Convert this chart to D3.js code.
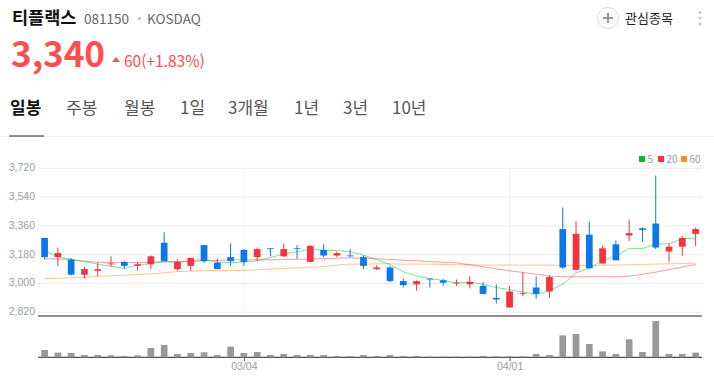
<!DOCTYPE html>
<html lang="ko">
<head>
<meta charset="utf-8">
<title>티플랙스</title>
<script src="https://cdn.jsdelivr.net/npm/d3@7"></script>
<style>
    html, body { margin: 0; padding: 0; background: #fff; }
    svg { display: block; font-family: "Noto Sans CJK KR", "Noto Sans", sans-serif; }
    .axis path { display: none; }
    .axis text { fill: #989ea5; font-size: 10.5px; }
    .x-axis line { stroke: #555; }
</style>
</head>
<body>
<div id="chart"></div>
<script>
// daily candles, red = up, blue = down
const dates = ["02/08","02/11","02/12","02/13","02/14","02/15","02/18","02/19","02/20","02/21",
    "02/22","02/25","02/26","02/27","02/28","03/04","03/05","03/06","03/07","03/08",
    "03/11","03/12","03/13","03/14","03/15","03/18","03/19","03/20","03/21","03/22",
    "03/25","03/26","03/27","03/28","03/29","04/01","04/02","04/03","04/04","04/05",
    "04/08","04/09","04/10","04/11","04/12","04/15","04/16","04/17","04/18","04/19"];
const opens = [3285,3165,3150,3055,3080,3120,3135,3110,3120,3255,3090,3110,3240,3130,3165,
    3210,3165,3220,3170,3220,3135,3210,3175,3175,3165,3090,3100,3015,2995,3030,
    3020,3000,2995,2985,2910,2850,2935,2975,2950,3340,3085,3305,3125,3245,3300,
    3345,3375,3200,3230,3310];
const highs = [3285,3225,3160,3105,3130,3170,3140,3130,3175,3320,3150,3160,3240,3155,3250,
    3215,3225,3220,3250,3240,3240,3245,3200,3215,3175,3115,3110,3030,3020,3030,
    3030,3025,3045,3010,2995,2985,3070,3045,3050,3475,3390,3385,3235,3270,3400,
    3350,3675,3250,3295,3350];
const lows = [3150,3110,3050,3030,3045,3105,3090,3080,3090,3140,3080,3080,3130,3090,3110,
    3110,3140,3170,3165,3155,3135,3165,3165,3165,3090,3085,3010,2975,2955,2975,
    2985,2985,2970,2935,2875,2850,2920,2905,2910,3090,3085,3095,3125,3145,3265,
    3260,3215,3135,3175,3235];
const closes = [3165,3190,3055,3090,3090,3125,3110,3120,3170,3140,3135,3160,3140,3090,3140,
    3135,3215,3215,3215,3215,3235,3175,3190,3170,3110,3100,3015,2990,3015,3025,
    3005,3005,3010,2935,2900,2950,2940,2935,3040,3100,3310,3095,3220,3145,3315,
    3335,3225,3230,3285,3340];
const volumes = [22,14,13,7,7,6,4,6,28,37,10,13,15,7,32,
    13,16,7,10,7,7,7,4,4,7,4,7,4,4,2,
    2,2,2,4,3,3,3,10,7,66,70,40,18,10,54,
    16,109,10,10,14];

// moving averages
const ma5 = [3202,3170,3148,3137,3120,3108,3094,3115,3125,3137,3135,3142,3152,3133,3131,
    3133,3142,3162,3185,3198,3215,3208,3206,3200,3177,3150,3119,3073,3046,3031,
    3019,3004,3010,2994,2975,2962,2946,2933,2954,2996,3067,3094,3144,3173,3219,
    3219,3248,3248,3281,3281];
const ma20 = [3154,3154,3150,3140,3133,3131,3131,3131,3133,3135,3135,3137,3142,3144,3148,
    3148,3148,3148,3150,3152,3152,3156,3158,3160,3158,3154,3150,3146,3142,3137,
    3133,3129,3117,3104,3092,3079,3069,3058,3046,3042,3042,3042,3042,3042,3046,
    3058,3071,3087,3102,3119];
const ma60 = [3031,3033,3035,3040,3044,3048,3052,3056,3060,3067,3075,3077,3081,3081,3081,
    3083,3085,3090,3094,3098,3102,3106,3115,3121,3121,3123,3123,3121,3121,3121,
    3119,3117,3117,3115,3115,3115,3115,3115,3115,3114,3113,3113,3115,3115,3117,
    3119,3121,3123,3125,3127];

const priceTicks = [2820,3000,3180,3360,3540,3720];
const dateTicks = ["03/04","04/01"];
const tabs = ["일봉","주봉","월봉","1일","3개월","1년","3년","10년"];
const tabX = [10,66,124,180,228,294,343,392];
const legendNames = ["5","20","60"];
const legendColors = ["#00c31f","#f5333f","#ff8c1e"];

const UP = "#f5333f", DOWN = "#0a78ea";

class CandleChart {

    constructor(parentElement) {
        this._parentElement = parentElement;
        this.initVis();
    }

    initVis() {
        let vis = this;

        vis.width = 714;
        vis.height = 378;
        vis.left = 38;
        vis.right = 702;

        vis.svg = d3.select("#" + vis._parentElement).append("svg")
            .attr("width", vis.width)
            .attr("height", vis.height);

        vis.x = d3.scalePoint()
            .domain(dates)
            .range([44.6, 695.6]);

        vis.y = d3.scaleLinear()
            .domain([2820, 3720])
            .range([312.3, 168.3]);

        vis.yVol = d3.scaleLinear()
            .domain([0, d3.max(volumes)])
            .range([357.3, 321]);

        vis.candleWidth = 6.7;

        vis.drawHeader();
        vis.drawAxes();
        vis.drawVolume();
        vis.drawLines();
        vis.drawCandles();
        vis.drawLegend();
    }

    drawHeader() {
        let vis = this;
        let head = vis.svg.append("g");

        head.append("text").attr("x", 12).attr("y", 23.5)
            .attr("font-size", 17.5).attr("font-weight", 700).attr("fill", "#111")
            .text("티플랙스");
        head.append("text").attr("x", 84).attr("y", 23.5)
            .attr("font-size", 13.5).attr("fill", "#5f6670")
            .text("081150");
        head.append("circle").attr("cx", 139.5).attr("cy", 18.5).attr("r", 1.5)
            .attr("fill", "#bbb");
        head.append("text").attr("x", 147).attr("y", 23.5)
            .attr("font-size", 13.5).attr("fill", "#5f6670")
            .text("KOSDAQ");

        head.append("text").attr("x", 11).attr("y", 66.5)
            .attr("font-size", 35).attr("font-weight", 700).attr("fill", "#ff4d52")
            .text("3,340");
        head.append("path").attr("d", "M112,62L116,57L120,62Z").attr("fill", "#ff4d52");
        head.append("text").attr("x", 124).attr("y", 67)
            .attr("font-size", 15.5).attr("fill", "#ff4d52")
            .text("60(+1.83%)");

        // 관심종목 button
        head.append("circle").attr("cx", 608).attr("cy", 18).attr("r", 10.5)
            .attr("fill", "#fff").attr("stroke", "#d8dbdf");
        head.append("path").attr("d", "M603,18H613M608,13V23")
            .attr("stroke", "#8b96a3").attr("stroke-width", 2);
        head.append("text").attr("x", 625).attr("y", 22.5)
            .attr("font-size", 13).attr("fill", "#222")
            .text("관심종목");
        head.selectAll(".dot").data([12.5, 18, 24]).enter().append("circle")
            .attr("class", "dot")
            .attr("cx", 700).attr("cy", d => d).attr("r", 1.5)
            .attr("fill", "#c4c8cd");

        // tab row
        head.selectAll(".tab").data(tabs).enter().append("text")
            .attr("class", "tab")
            .attr("x", (d, i) => tabX[i])
            .attr("y", 114)
            .attr("font-size", 17)
            .attr("font-weight", (d, i) => i === 0 ? 700 : 400)
            .attr("fill", (d, i) => i === 0 ? "#111" : "#555")
            .text(d => d);
        head.append("line").attr("x1", 0).attr("x2", vis.width)
            .attr("y1", 136.5).attr("y2", 136.5).attr("stroke", "#f0f0f0");
        head.append("line").attr("x1", 9).attr("x2", 44)
            .attr("y1", 136).attr("y2", 136).attr("stroke", "#222").attr("stroke-width", 1.2);
    }

    drawAxes() {
        let vis = this;

        // grid
        vis.svg.append("g").selectAll("line").data(priceTicks).enter().append("line")
            .attr("x1", vis.left).attr("x2", vis.right)
            .attr("y1", d => vis.y(d)).attr("y2", d => vis.y(d))
            .attr("stroke", "#ececec");
        vis.svg.append("g").selectAll("line").data(dateTicks).enter().append("line")
            .attr("x1", d => vis.x(d)).attr("x2", d => vis.x(d))
            .attr("y1", 168).attr("y2", 316)
            .attr("stroke", "#f1f1f1");

        vis.yAxis = d3.axisLeft(vis.y)
            .tickValues(priceTicks)
            .tickSize(0)
            .tickPadding(3)
            .tickFormat(d3.format(","));
        vis.svg.append("g")
            .attr("class", "y-axis axis")
            .attr("transform", "translate(" + vis.left + ",-1)")
            .call(vis.yAxis);

        vis.xAxis = d3.axisBottom(vis.x)
            .tickValues(dateTicks)
            .tickSize(4)
            .tickPadding(1);
        vis.svg.append("g")
            .attr("class", "x-axis axis")
            .attr("transform", "translate(0,357.3)")
            .call(vis.xAxis);

        // price / volume separators
        vis.svg.selectAll(".sep").data([316, 357.3]).enter().append("line")
            .attr("class", "sep")
            .attr("x1", vis.left).attr("x2", vis.right)
            .attr("y1", d => d).attr("y2", d => d)
            .attr("stroke", "#222").attr("stroke-width", 1);
    }

    drawVolume() {
        let vis = this;
        vis.svg.append("g").selectAll("rect").data(volumes).enter().append("rect")
            .attr("x", (d, i) => vis.x(dates[i]) - vis.candleWidth / 2)
            .attr("width", vis.candleWidth)
            .attr("y", d => vis.yVol(d))
            .attr("height", d => vis.yVol(0) - vis.yVol(d))
            .attr("fill", "#999");
    }

    drawLines() {
        let vis = this;
        let line = d3.line()
            .x((d, i) => vis.x(dates[i]))
            .y(d => vis.y(d));

        [ma60, ma20, ma5].forEach((series, i) => {
            vis.svg.append("path")
                .datum(series)
                .attr("fill", "none")
                .attr("stroke", legendColors[2 - i])
                .attr("stroke-opacity", 0.5)
                .attr("stroke-width", 1)
                .attr("d", line);
        });
    }

    drawCandles() {
        let vis = this;
        let color = i => closes[i] >= opens[i] ? UP : DOWN;

        let candles = vis.svg.append("g").selectAll("g").data(dates).enter().append("g");

        candles.append("line")
            .attr("x1", d => vis.x(d)).attr("x2", d => vis.x(d))
            .attr("y1", (d, i) => vis.y(highs[i]))
            .attr("y2", (d, i) => vis.y(lows[i]))
            .attr("stroke", (d, i) => color(i));

        candles.append("rect")
            .attr("x", d => vis.x(d) - vis.candleWidth / 2)
            .attr("width", vis.candleWidth)
            .attr("y", (d, i) => vis.y(Math.max(opens[i], closes[i])))
            .attr("height", (d, i) => Math.abs(vis.y(opens[i]) - vis.y(closes[i])))
            .attr("fill", (d, i) => color(i));
    }

    drawLegend() {
        let vis = this;
        let squareX = [639, 658, 681];
        let legend = vis.svg.append("g").selectAll("g").data(legendNames).enter().append("g");

        legend.append("rect")
            .attr("x", (d, i) => squareX[i]).attr("y", 156)
            .attr("width", 6).attr("height", 6)
            .attr("fill", (d, i) => legendColors[i]);
        legend.append("text")
            .attr("x", (d, i) => squareX[i] + 8.5).attr("y", 162.5)
            .attr("font-size", 10).attr("fill", "#989ea5")
            .text(d => d);
    }
}

new CandleChart("chart");
</script>
</body>
</html>
